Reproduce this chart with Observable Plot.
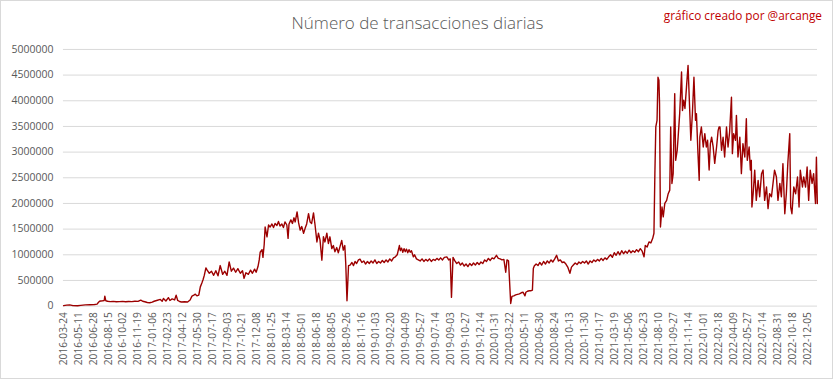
<!DOCTYPE html>
<html>
<head>
<meta charset="utf-8">
<script src="https://cdn.jsdelivr.net/npm/d3@7"></script>
<script src="https://cdn.jsdelivr.net/npm/@observablehq/plot@0.6"></script>
<style>
  html, body { margin: 0; padding: 0; background: #fff; }
  #wrap { position: relative; width: 833px; height: 379px; box-sizing: border-box; border: 1px solid #d9d9d9; overflow: hidden; background: #fff; }
  #chart { position: absolute; left: -1px; top: -1px; }
  #title { position: absolute; left: 0; top: 10px; width: 833px; text-align: center; font-family: "Open Sans", sans-serif; font-weight: 300; font-size: 17px; color: #595959; }
  #credit { position: absolute; right: 10px; top: 6px; font-family: "Open Sans", sans-serif; font-size: 11.8px; color: #c00000; }
</style>
</head>
<body>
<div id="wrap">
  <div id="chart"></div>
  <div id="title">Número de transacciones diarias</div>
  <div id="credit">gráfico creado por @arcange</div>
</div>
<script>
const chartTitle = "Número de transacciones diarias";
const creditText = "gráfico creado por @arcange";

// Category labels shown every 48 days on the category axis
const xTickLabels = [
  "2016-03-24","2016-05-11","2016-06-28","2016-08-15","2016-10-02","2016-11-19",
  "2017-01-06","2017-02-23","2017-04-12","2017-05-30","2017-07-17","2017-09-03","2017-10-21","2017-12-08",
  "2018-01-25","2018-03-14","2018-05-01","2018-06-18","2018-08-05","2018-09-26","2018-11-16",
  "2019-01-03","2019-02-20","2019-04-09","2019-05-27","2019-07-14","2019-09-03","2019-10-27","2019-12-14",
  "2020-01-31","2020-03-22","2020-05-11","2020-06-30","2020-08-24","2020-10-13","2020-11-30",
  "2021-01-17","2021-03-19","2021-05-06","2021-06-23","2021-08-10","2021-09-27","2021-11-14",
  "2022-01-01","2022-02-18","2022-04-09","2022-05-27","2022-07-14","2022-08-31","2022-10-18","2022-12-05"
];
const labelEvery = 48;
const dayCount = 2432;

const yTicks = [0, 500000, 1000000, 1500000, 2000000, 2500000, 3000000, 3500000, 4000000, 4500000, 5000000];

// Day index (category position) of each read point
const dayIndex = [
  0,10,20,30,45,55,70,85,100,108,112,116,120,126,131,133,136,142,150,160,170,180,190,200,210,220,230,240,249,255,262,270,278,286,292,300,312,318,322,330,338,343,350,358,363,368,374,380,390,400,408,414,420,425,430,436,441,446,450,454,459,
  463,470,477,484,491,498,505,513,520,527,534,541,548,555,562,570,577,582,588,596,603,609,616,621,627,631,634,640,643,647,650,656,661,
  666,672,677,682,688,693,698,704,709,714,720,724,727,733,738,743,747,753,758,763,768,774,779,784,790,795,800,806,811,817,822,827,833,838,843,849,854,859,865,870,875,881,886,891,897,902,907,910,914,919,924,930,935,940,945,951,956,
  962,968,974,980,986,992,998,1004,1010,1016,1022,1028,1034,1040,1046,1052,1058,1064,1070,1076,1083,1086,1090,1094,1098,1102,1106,1110,1114,1118,1122,1128,1132,1138,1144,1150,1156,1162,1168,1174,1180,1186,1192,1198,1204,1210,1216,1222,1228,1236,1242,1247,1251,1256,
  1262,1268,1274,1280,1286,1292,1298,1304,1310,1316,1322,1328,1334,1340,1346,1352,1358,1364,1370,1376,1382,1388,1396,1402,1408,1414,1420,1426,1430,1435,1442,1446,1452,1458,1464,1470,1476,1482,1488,1491,1496,1502,1508,1512,1515,
  1518,1524,1530,1536,1542,1548,1554,1560,1566,1572,1578,1584,1590,1596,1602,1608,1614,1620,1626,1633,1638,1644,1650,1656,1662,1668,1674,1680,1686,1692,1698,1704,1710,1716,1722,1728,1734,1740,1746,1752,1758,1764,1770,1776,1782,1788,1794,1800,1806,1812,1818,1824,1830,1836,1842,1848,1854,1860,1866,1872,1876,1882,1888,1894,1900,1904,1907,1910,1914,1917,1920,1922,1925,
  1930,1934,1939,1945,1950,1955,1958,1962,1966,1971,1974,1979,1982,1987,1993,1996,2000,2004,2009,2014,2017,2023,2028,2033,2038,2041,2046,2050,2052,2057,2063,2068,2073,2077,2082,2086,2090,2095,2100,2106,2111,2114,
  2117,2122,2127,2132,2138,2143,2148,2154,2157,2161,2167,2170,2175,2181,2186,2191,2197,2202,2205,2211,2215,2218,2220,2224,2229,2234,2240,2245,2251,2256,2261,2267,2272,2277,2283,2288,2293,2299,2304,2310,2315,2320,2326,2331,2336,2342,2345,2349,2355,2361,2367,2372,2376,2383,2387,2393,2398,2403,2408,2414,2419,2425,2428,2431
];

// Daily transactions, in thousands
const txThousands = [
  10,20,25,10,8,15,25,28,32,40,70,95,100,105,110,195,105,95,88,92,85,88,92,85,90,88,95,92,117,95,85,70,65,78,95,110,130,95,150,100,165,110,140,120,214,110,90,80,85,80,120,195,214,233,200,214,375,450,519,603,745,
  700,640,680,600,690,590,790,620,680,600,860,680,740,660,730,640,690,540,650,620,700,640,720,660,770,900,1050,1100,950,1200,1540,1350,1580,
  1540,1600,1530,1610,1570,1650,1560,1600,1530,1640,1580,1320,1600,1680,1610,1720,1640,1835,1620,1480,1550,1420,1515,1600,1800,1640,1610,1815,1580,1250,1420,1290,895,1350,1250,1420,1220,1350,1120,1180,1060,1140,1040,1150,1280,1090,1180,830,103,790,800,850,790,870,830,900,915,
  850,880,820,870,830,880,840,900,830,870,840,890,850,900,860,920,880,940,960,1000,1180,1080,1130,1050,1120,1060,1110,1040,1100,1050,1080,960,1000,920,900,880,920,870,910,880,920,870,910,890,930,900,940,900,950,960,900,920,170,950,
  880,830,860,800,840,780,820,770,830,790,840,800,850,810,860,830,900,870,930,890,940,920,990,930,920,900,910,660,900,880,52,190,200,220,230,240,260,270,200,270,290,300,300,310,733,
  780,820,790,850,800,870,820,880,840,900,860,920,990,880,900,850,860,820,760,640,760,800,840,810,860,830,870,840,880,820,880,850,900,870,910,880,930,890,940,910,960,1000,950,1040,990,1060,1000,1080,1020,1070,1030,1090,1040,1080,1050,1100,1060,1120,1070,960,1180,1150,1250,1230,1320,1420,2580,3490,3620,4460,4400,3950,1540,
  1930,1740,2000,2060,2190,2260,3490,2390,2580,4140,2840,3035,3290,3750,4560,3810,4010,3850,4270,4690,4200,3230,3750,4460,3620,3750,2970,2450,3290,3490,3100,3360,3100,3230,2650,3165,3290,3100,2780,3100,3420,3490,
  3490,3035,3290,2905,3490,3100,3390,4070,2970,3360,3230,3716,2905,3290,2580,3165,2905,3650,2840,3100,2650,2840,1930,2190,2650,2060,2450,2130,2580,2650,2060,2320,1900,2190,2130,2390,2650,2516,2060,2390,2130,2776,1800,2190,2808,3360,1930,1800,2320,2190,2516,1930,2650,2320,2516,2320,2710,2060,2650,2390,2580,2000,2900,2000
];

const series = dayIndex.map((d, k) => ({ day: d, tx: txThousands[k] * 1000 }));
const xTickPositions = xTickLabels.map((_, k) => k * labelEvery);

const fontFamily = '"Open Sans", sans-serif';

const chart = Plot.plot({
  width: 833,
  height: 379,
  marginTop: 49,
  marginBottom: 73,
  marginLeft: 63,
  marginRight: 15,
  style: { fontFamily, fontSize: "10.5px", color: "#595959", background: "transparent", overflow: "visible" },
  x: { type: "linear", domain: [-0.5, dayCount - 0.5] },
  y: { domain: [0, 5000000] },
  marks: [
    Plot.gridY(yTicks, { stroke: "#d9d9d9", strokeOpacity: 1, strokeWidth: 1 }),
    Plot.axisY(yTicks, { tickSize: 0, tickPadding: 10, tickFormat: d => String(d), label: null, fontSize: 10.5 }),
    Plot.axisX(xTickPositions, { tickSize: 0, tickPadding: 6, tickRotate: -90, tickFormat: d => xTickLabels[Math.round(d / labelEvery)], label: null, fontSize: 10.2 }),
    Plot.line(series, { x: "day", y: "tx", stroke: "#9c0000", strokeWidth: 1.4, strokeLinejoin: "round" })
  ]
});
document.getElementById("chart").appendChild(chart);
</script>
</body>
</html>
